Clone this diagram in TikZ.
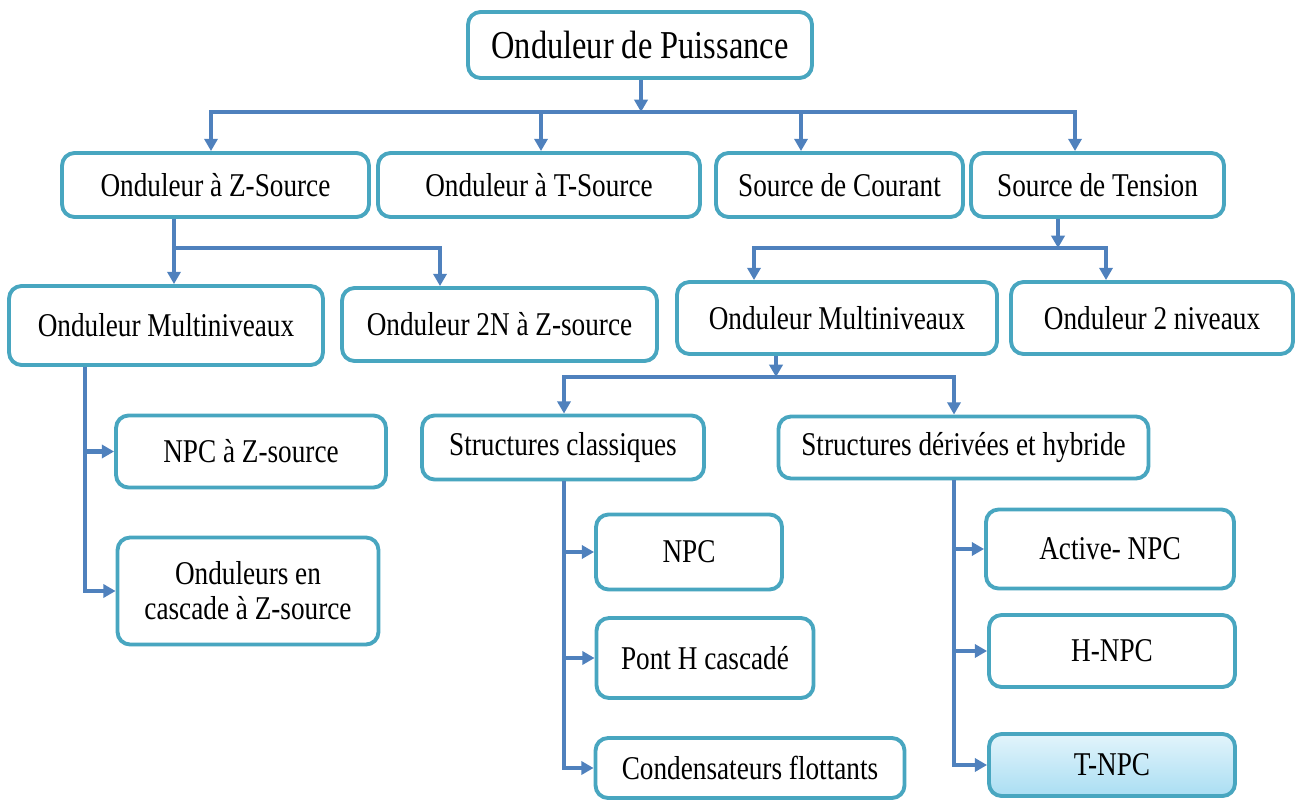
\documentclass[tikz,border=0pt]{standalone}
\usepackage{fontspec}
\setmainfont{Liberation Serif}[FakeStretch=0.82]
\usetikzlibrary{arrows.meta,shadows}

\definecolor{boxline}{RGB}{72,166,192}
\definecolor{linkblue}{RGB}{79,129,189}
\definecolor{tnpctop}{RGB}{226,244,251}
\definecolor{tnpcbot}{RGB}{170,222,243}

\tikzset{
  box/.style = {draw=boxline, line width=2.2pt, rounded corners=0.25cm, fill=white, inner sep=2pt,
                font=\fontsize{18.9}{20}\selectfont,
                drop shadow={opacity=0.25, shadow xshift=0.6pt, shadow yshift=-0.9pt}},
  link/.style = {draw=linkblue, line width=2.6pt},
  arr/.style = {link, -{Triangle[length=7pt,width=7.5pt]}}
}

\begin{document}
\begin{tikzpicture}[x=0.02cm,y=-0.02cm]
  \useasboundingbox (0,0) rectangle (1300,800);

  % level 1
  \node[box, minimum width=6.88cm, minimum height=1.32cm, font=\fontsize{22.5}{24}\selectfont] (puis) at (640,45) {Onduleur de Puissance};

  % level 2
  \node[box, minimum width=6.14cm, minimum height=1.28cm] (zsrc) at (215.5,185) {Onduleur à Z-Source};
  \node[box, minimum width=6.44cm, minimum height=1.28cm] (tsrc) at (539,185) {Onduleur à T-Source};
  \node[box, minimum width=4.94cm, minimum height=1.28cm] (courant) at (839.5,185) {Source de Courant};
  \node[box, minimum width=5.06cm, minimum height=1.28cm] (tension) at (1097.5,185) {Source de Tension};

  % level 3
  \node[box, minimum width=6.28cm, minimum height=1.58cm] (multiZ) at (166,325.5) {Onduleur Multiniveaux};
  \node[box, minimum width=6.3cm, minimum height=1.46cm] (deuxN) at (499.5,324.5) {Onduleur 2N à Z-source};
  \node[box, minimum width=6.4cm, minimum height=1.44cm] (multiT) at (837,318) {Onduleur Multiniveaux};
  \node[box, minimum width=5.64cm, minimum height=1.44cm] (deuxniv) at (1152,318) {Onduleur 2 niveaux};

  % level 4
  \node[box, minimum width=5.4cm, minimum height=1.44cm] (npcZ) at (251,451.5) {NPC à Z-source};
  \node[box, minimum width=5.22cm, minimum height=2.14cm, align=center] (cascZ) at (248,591) {Onduleurs en\\cascade à Z-source};
  \node[box, minimum width=5.64cm, minimum height=1.28cm] (classiq) at (563,447.5) {Structures classiques};
  \node[box, minimum width=7.4cm, minimum height=1.24cm] (deriv) at (963.5,447.5) {Structures dérivées et hybride};

  % level 5
  \node[box, minimum width=3.72cm, minimum height=1.5cm] (npc) at (689,552) {NPC};
  \node[box, minimum width=4.34cm, minimum height=1.6cm] (ponth) at (705,658) {Pont H cascadé};
  \node[box, minimum width=6.18cm, minimum height=1.2cm] (conden) at (750,768) {Condensateurs flottants};
  \node[box, minimum width=4.96cm, minimum height=1.58cm] (anpc) at (1110,549) {Active- NPC};
  \node[box, minimum width=4.92cm, minimum height=1.44cm] (hnpc) at (1112,651) {H-NPC};
  \node[box, top color=tnpctop, bottom color=tnpcbot, minimum width=4.92cm, minimum height=1.24cm] (tnpc) at (1112,765) {T-NPC};

  % bus points
  \coordinate (b0) at (641,112);
  \coordinate (b0a) at (211,112);
  \coordinate (b0b) at (541,112);
  \coordinate (b0c) at (801,112);
  \coordinate (b0d) at (1075,112);
  \coordinate (b1) at (174,248);
  \coordinate (b1r) at (440,248);
  \coordinate (b2) at (1058,248);
  \coordinate (b2a) at (754,248);
  \coordinate (b2b) at (1106,248);
  \coordinate (b3) at (776,377);
  \coordinate (b3a) at (564,377);
  \coordinate (b3b) at (954,377);
  \coordinate (v1) at (85,590);

  % connectors
  \draw[arr] (b0) -| (zsrc.north -| b0a);
  \draw[arr] (b0) -| (tension.north -| b0d);
  \draw[arr] (b0b) -- (tsrc.north -| b0b);
  \draw[arr] (b0c) -- (courant.north -| b0c);
  \draw[arr] (puis.south -| b0) -- (b0);

  \draw[arr] (zsrc.south -| b1) -- (multiZ.north -| b1);
  \draw[arr] (b1) -| (deuxN.north -| b1r);

  \draw[arr] (b2) -| (multiT.north -| b2a);
  \draw[arr] (b2) -| (deuxniv.north -| b2b);
  \draw[arr] (tension.south -| b2) -- (b2);

  \draw[arr] (b3) -| (classiq.north -| b3a);
  \draw[arr] (b3) -| (deriv.north -| b3b);
  \draw[arr] (multiT.south -| b3) -- (b3);

  \draw[arr] (multiZ.south -| v1) |- (cascZ.west);
  \draw[arr] (v1 |- npcZ.west) -- (npcZ.west);

  \draw[arr] (classiq.south -| b3a) |- (conden.west);
  \draw[arr] (b3a |- npc.west) -- (npc.west);
  \draw[arr] (b3a |- ponth.west) -- (ponth.west);

  \draw[arr] (deriv.south -| b3b) |- (tnpc.west);
  \draw[arr] (b3b |- anpc.west) -- (anpc.west);
  \draw[arr] (b3b |- hnpc.west) -- (hnpc.west);
\end{tikzpicture}
\end{document}
